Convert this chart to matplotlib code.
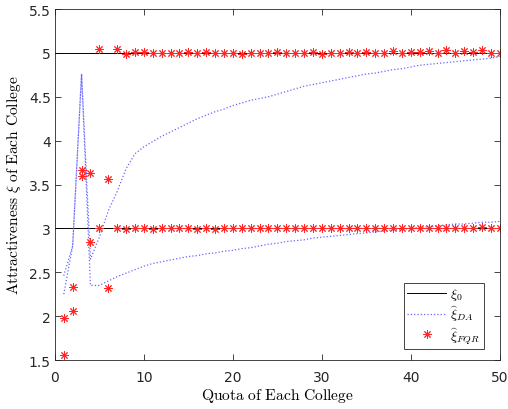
import numpy as np
import matplotlib
matplotlib.use("Agg")
import matplotlib.pyplot as plt
from matplotlib.ticker import FormatStrFormatter

plt.rcParams.update({
    "font.family": "DejaVu Sans",
    "mathtext.fontset": "cm",
    "font.size": 10,
})

# quota values (1..50) shared by the estimates
quota = np.arange(1, 51)

# true attractiveness levels, drawn across the full x range
xi0_x = [0, 50]
xi0_high = [5, 5]
xi0_low = [3, 3]

# DA estimates
da_high = [2.46, 2.80, 4.76, 2.65, 2.90, 3.20, 3.42, 3.68, 3.85, 3.93,
           3.99, 4.05, 4.10, 4.15, 4.20, 4.25, 4.29, 4.33, 4.36, 4.40,
           4.43, 4.46, 4.48, 4.50, 4.53, 4.56, 4.59, 4.62, 4.64, 4.66,
           4.68, 4.70, 4.72, 4.74, 4.76, 4.77, 4.79, 4.81, 4.82, 4.84,
           4.86, 4.87, 4.88, 4.89, 4.90, 4.91, 4.92, 4.93, 4.94, 4.96]
da_low = [2.25, 2.80, 4.76, 2.35, 2.35, 2.40, 2.45, 2.49, 2.53, 2.57,
          2.60, 2.62, 2.64, 2.66, 2.68, 2.69, 2.71, 2.72, 2.74, 2.75,
          2.77, 2.78, 2.80, 2.82, 2.83, 2.85, 2.86, 2.87, 2.89, 2.90,
          2.91, 2.92, 2.93, 2.94, 2.95, 2.96, 2.97, 2.98, 2.99, 3.00,
          3.01, 3.02, 3.03, 3.04, 3.05, 3.05, 3.06, 3.07, 3.07, 3.08]

# FQR estimates
fqr_high = [1.98, 2.33, 3.66, 3.63, 5.04, 3.56, 5.05, 4.99, 5.01, 5.01,
            5.00, 5.00, 5.00, 5.00, 5.01, 5.00, 5.01, 5.00, 5.00, 5.00,
            4.99, 5.00, 5.00, 5.00, 5.01, 5.00, 5.00, 5.00, 5.01, 4.99,
            5.00, 5.00, 5.01, 5.00, 5.01, 5.00, 5.00, 5.02, 5.00, 5.01,
            5.01, 5.02, 5.00, 5.03, 5.00, 5.02, 5.01, 5.03, 5.00, 5.00]
fqr_low = [1.56, 2.06, 3.60, 2.84, 3.01, 2.32, 3.01, 2.99, 3.00, 3.00,
           2.99, 3.00, 3.00, 3.00, 3.00, 2.99, 3.00, 2.99, 3.00, 3.00,
           3.00, 3.00, 3.00, 3.00, 3.00, 3.00, 3.00, 3.00, 3.00, 3.00,
           3.00, 3.00, 3.00, 3.00, 3.00, 3.00, 3.00, 3.00, 3.00, 3.01,
           3.01, 3.01, 3.00, 3.01, 3.00, 3.01, 3.00, 3.02, 3.00, 3.00]

fig = plt.figure(figsize=(5.08, 4.10), dpi=100)
ax = fig.add_axes([0.108, 0.1195, 0.876, 0.856])

line_kw = dict(color="black", linewidth=0.7)
da_kw = dict(color=(0.4, 0.4, 1.0), linestyle=":", linewidth=0.9)
fqr_kw = dict(linestyle="none", marker=(8, 2, 0), markersize=6,
              markeredgewidth=0.7, color=(1.0, 0.15, 0.15))

ax.plot(xi0_x, xi0_high, label=r"$\xi_0$", **line_kw)
ax.plot(xi0_x, xi0_low, **line_kw)
ax.plot(quota, da_high, label=r"$\widehat{\xi}_{DA}$", **da_kw)
ax.plot(quota, da_low, **da_kw)
ax.plot(quota, fqr_high, label=r"$\widehat{\xi}_{FQR}$", **fqr_kw)
ax.plot(quota, fqr_low, **fqr_kw)

ax.set_xlim(0, 50)
ax.set_ylim(1.5, 5.5)
ax.set_xticks(np.arange(0, 51, 10))
ax.set_yticks(np.arange(1.5, 5.51, 0.5))
ax.yaxis.set_major_formatter(FormatStrFormatter("%g"))

gray = (0.15, 0.15, 0.15)
for s in ax.spines.values():
    s.set_color(gray)
    s.set_linewidth(0.6)
ax.tick_params(direction="in", length=4, width=0.6, colors=gray,
               labelsize=10, top=True, right=True)
ax.tick_params(axis="x", pad=7.5)
ax.tick_params(axis="y", pad=3)

ax.set_xlabel(r"$\mathrm{Quota\ of\ Each\ College}$", fontsize=11.2, labelpad=1)
ax.set_ylabel(r"$\mathrm{Attractiveness}\ \xi\ \mathrm{of\ Each\ College}$",
              fontsize=11.2, labelpad=4)

leg = ax.legend(loc="lower right", bbox_to_anchor=(0.964, 0.031),
                borderaxespad=0, fontsize=10, fancybox=False, framealpha=1,
                edgecolor=gray, handlelength=2.8, borderpad=0.25,
                labelspacing=0.1, handletextpad=0.3)
leg.get_frame().set_linewidth(0.6)

fig.savefig("out.png", dpi=100)
